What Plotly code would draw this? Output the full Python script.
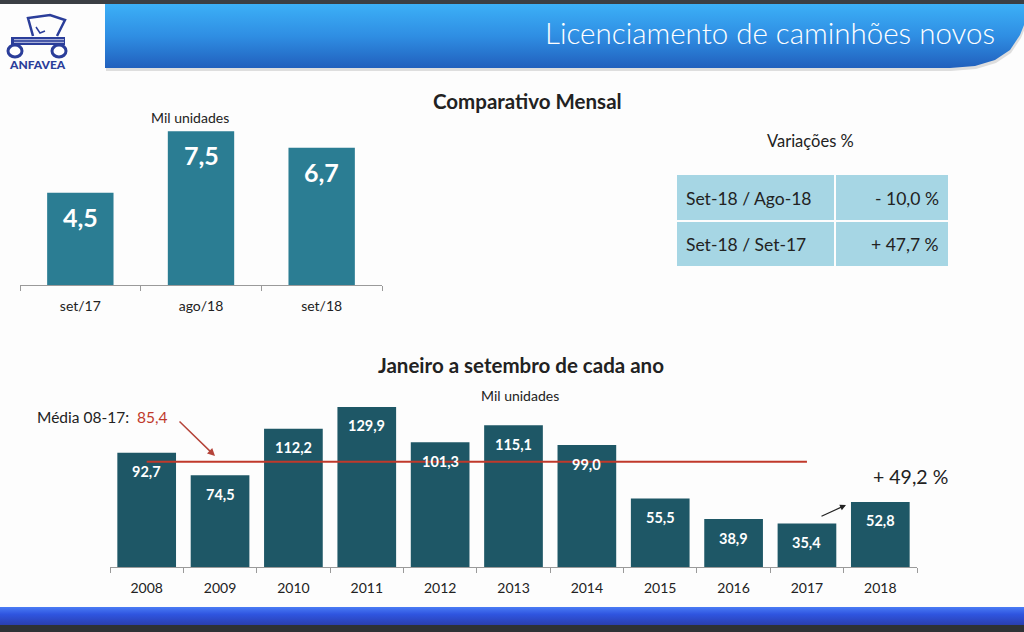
import plotly.graph_objects as go

# Comparativo mensal (mil unidades)
meses = ["set/17", "ago/18", "set/18"]
mensal = [4.5, 7.5, 6.7]

# Janeiro a setembro de cada ano (mil unidades)
anos = ["2008", "2009", "2010", "2011", "2012", "2013", "2014", "2015", "2016", "2017", "2018"]
acumulado = [92.7, 74.5, 112.2, 129.9, 101.3, 115.1, 99.0, 55.5, 38.9, 35.4, 52.8]
media_08_17 = 85.4
media_anos = ["2008", "2017"]

# Variações %
var_labels = ["Set-18 / Ago-18", "Set-18 / Set-17"]
var_values = ["- 10,0 %", "+ 47,7 %"]
var_crescimento = "+ 49,2 %"

W, H = 1024, 632
FONT = "Lato"
TOP_BAR = "#2b7d93"
BOT_BAR = "#1e5766"
RED = "#c0392b"
LOGO = "#2b3e9a"


def fx(x):
    return x / W


def fy(y):
    return 1 - y / H


def br(v):
    return f"{v:.1f}".replace(".", ",")


fig = go.Figure()

# ---- decoration layer (pixel coordinates on x3/y3) ----
banner_x = [105, 1024, 1024, 1020, 1010, 995, 975, 950, 105, 105]
banner_y = [4, 4, 25, 35, 50, 60, 66, 68, 68, 4]
fig.add_trace(go.Scatter(
    x=[v + 1 for v in banner_x], y=[v + 3 for v in banner_y], xaxis="x3", yaxis="y3",
    mode="lines", line=dict(width=0), fill="toself", fillcolor="rgba(0,0,0,0.12)",
    hoverinfo="skip", showlegend=False,
))
fig.add_trace(go.Scatter(
    x=banner_x, y=banner_y, xaxis="x3", yaxis="y3",
    mode="lines", line=dict(width=0), fill="toself",
    fillgradient=dict(type="vertical", start=4, stop=68,
                      colorscale=[[0, "#3cb0f7"], [0.5, "#2f8ee3"], [1, "#2160bd"]]),
    hoverinfo="skip", showlegend=False,
))
foot_x = [0, 1024, 1024, 0, 0]
foot_y = [607, 607, 625, 625, 607]
fig.add_trace(go.Scatter(
    x=foot_x, y=foot_y, xaxis="x3", yaxis="y3",
    mode="lines", line=dict(width=0), fill="toself",
    fillgradient=dict(type="vertical", start=607, stop=625,
                      colorscale=[[0, "#4a7cf5"], [0.4, "#2f55e0"], [1, "#2a3fb0"]]),
    hoverinfo="skip", showlegend=False,
))

# ---- top chart ----
fig.add_trace(go.Bar(
    x=meses, y=mensal, width=0.55, marker=dict(color=TOP_BAR, line=dict(width=0)),
    xaxis="x", yaxis="y", showlegend=False, hoverinfo="x+y",
))

# ---- bottom chart ----
fig.add_trace(go.Bar(
    x=anos, y=acumulado, width=0.8, marker=dict(color=BOT_BAR, line=dict(width=0)),
    xaxis="x2", yaxis="y2", showlegend=False, hoverinfo="x+y",
))
fig.add_trace(go.Scatter(
    x=media_anos, y=[media_08_17, media_08_17], mode="lines",
    line=dict(color=RED, width=2), xaxis="x2", yaxis="y2",
    showlegend=False, hoverinfo="skip",
))

annotations = []
for i, v in enumerate(mensal):
    annotations.append(dict(x=i, y=v, xref="x", yref="y", yshift=-24, showarrow=False,
                            text=br(v), font=dict(family=FONT, size=25, color="white", weight="bold")))
for i, v in enumerate(acumulado):
    annotations.append(dict(x=i, y=v, xref="x2", yref="y2", yshift=-19, showarrow=False,
                            text=br(v), font=dict(family=FONT, size=14.5, color="white", weight="bold")))


def txt(x, y, text, size, color="#222222", bold=False, xanchor="center", weight=None):
    annotations.append(dict(
        x=x, y=y, xref="x3", yref="y3", text=text, showarrow=False,
        xanchor=xanchor, yanchor="middle",
        font=dict(family=FONT, size=size, color=color,
                  weight=weight if weight else ("bold" if bold else "normal")),
    ))


txt(997, 32, "Licenciamento de caminhões novos", 29.5, color="white", xanchor="right", weight=300)
txt(37, 64, "ANFAVEA", 12, color=LOGO, weight=900)
txt(527, 101, "Comparativo Mensal", 20.5, bold=True)
txt(190, 117, "Mil unidades", 14)
txt(810, 141, "Variações %", 16.5)
txt(521, 365, "Janeiro a setembro de cada ano", 20.5, bold=True)
txt(520, 395, "Mil unidades", 14)
txt(35, 417, "Média 08-17:  <span style='color:%s'>%s</span>" % (RED, br(media_08_17)), 15.5, xanchor="left")
txt(910, 476, var_crescimento, 19.5)

# table text
row_y = [198, 244]
for ry, lab, val in zip(row_y, var_labels, var_values):
    txt(684, ry, lab, 17.5, xanchor="left")
    txt(941, ry, val, 17.5, xanchor="right")

# arrows
annotations.append(dict(x=215, y=456, ax=178, ay=420, xref="x3", yref="y3", axref="x3", ayref="y3",
                        text="", showarrow=True, arrowhead=2, arrowsize=1, arrowwidth=1.5,
                        arrowcolor="#b5443a"))
annotations.append(dict(x=846, y=505, ax=820, ay=517, xref="x3", yref="y3", axref="x3", ayref="y3",
                        text="", showarrow=True, arrowhead=2, arrowsize=1, arrowwidth=1.2,
                        arrowcolor="#222222"))

shapes = [
    # top dark strip and bottom dark strip
    dict(type="rect", xref="x3", yref="y3", x0=0, x1=1024, y0=0, y1=4,
         fillcolor="#3b3f44", line=dict(width=0), layer="below"),
    dict(type="rect", xref="x3", yref="y3", x0=0, x1=1024, y0=625, y1=632,
         fillcolor="#2e3236", line=dict(width=0), layer="below"),
    # table cells
    dict(type="rect", xref="x3", yref="y3", x0=677, x1=834, y0=175, y1=220,
         fillcolor="#a6d6e4", line=dict(width=0), layer="below"),
    dict(type="rect", xref="x3", yref="y3", x0=836, x1=948, y0=175, y1=220,
         fillcolor="#a6d6e4", line=dict(width=0), layer="below"),
    dict(type="rect", xref="x3", yref="y3", x0=677, x1=834, y0=222, y1=266,
         fillcolor="#a6d6e4", line=dict(width=0), layer="below"),
    dict(type="rect", xref="x3", yref="y3", x0=836, x1=948, y0=222, y1=266,
         fillcolor="#a6d6e4", line=dict(width=0), layer="below"),
    # ANFAVEA truck logo
    dict(type="path", xref="x3", yref="y3", path="M 33 36 L 28 18 L 50 15 L 65 20 L 57 36",
         line=dict(color=LOGO, width=2.5)),
    dict(type="path", xref="x3", yref="y3", path="M 36 27 L 40 33 L 45 31",
         line=dict(color=LOGO, width=1.5)),
    dict(type="rect", xref="x3", yref="y3", x0=11, x1=65, y0=37, y1=45,
         fillcolor=LOGO, line=dict(width=0)),
    dict(type="line", xref="x3", yref="y3", x0=14, x1=64, y0=39.7, y1=39.7,
         line=dict(color="#c8cde8", width=1)),
    dict(type="line", xref="x3", yref="y3", x0=14, x1=64, y0=42.3, y1=42.3,
         line=dict(color="#c8cde8", width=1)),
    dict(type="circle", xref="x3", yref="y3", x0=8, x1=22, y0=45, y1=57,
         fillcolor="white", line=dict(color=LOGO, width=3)),
    dict(type="circle", xref="x3", yref="y3", x0=52, x1=66, y0=45, y1=57,
         fillcolor="white", line=dict(color=LOGO, width=3)),
]

axis_common = dict(type="category", tickson="boundaries", ticks="outside", ticklen=5,
                   tickcolor="#9a9a9a", showline=True, linecolor="#9a9a9a", linewidth=1,
                   showgrid=False, ticklabelstandoff=8, fixedrange=True)

fig.update_layout(
    width=W, height=H,
    margin=dict(l=0, r=0, t=0, b=0),
    paper_bgcolor="#fdfdfd", plot_bgcolor="rgba(0,0,0,0)",
    font=dict(family=FONT, color="#222222"),
    annotations=annotations,
    shapes=shapes,
    xaxis=dict(domain=[fx(20), fx(382)], range=[-0.5, len(meses) - 0.5],
               tickfont=dict(size=14, color="#222222"), **axis_common),
    yaxis=dict(domain=[fy(285), fy(117)], range=[0, 8.2], visible=False, fixedrange=True),
    xaxis2=dict(domain=[fx(110), fx(917)], anchor="y2", range=[-0.5, len(anos) - 0.5],
                tickfont=dict(size=14, color="#222222"), **axis_common),
    yaxis2=dict(domain=[fy(567), fy(394.5)], anchor="x2", range=[0, 140], visible=False,
                fixedrange=True),
    xaxis3=dict(domain=[0, 1], range=[0, W], visible=False, anchor="y3", fixedrange=True),
    yaxis3=dict(domain=[0, 1], range=[H, 0], visible=False, anchor="x3", fixedrange=True),
)

fig.write_html("out.html", config={"displayModeBar": False},
               post_script="document.body.style.margin='0';")
